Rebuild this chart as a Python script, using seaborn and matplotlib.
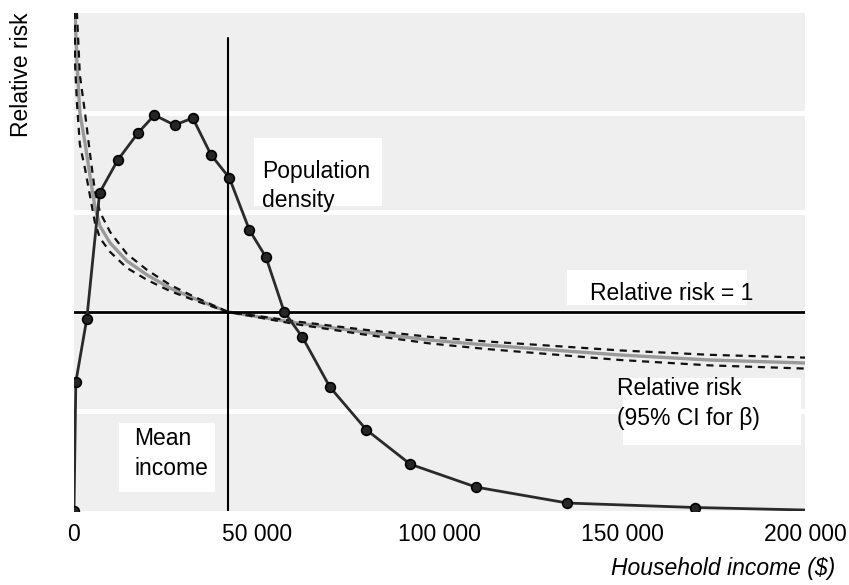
import matplotlib
matplotlib.use("Agg")
import matplotlib.pyplot as plt
import seaborn as sns
import pandas as pd
from matplotlib.patches import Rectangle

# ---------------- data ----------------
income_density = [0, 500, 3500, 7000, 12000, 17500, 22000, 27500, 32500, 37500,
                  42500, 48000, 52500, 57500, 62500, 70000, 80000, 92000,
                  110000, 135000, 170000]
density = [0, 2.59, 3.86, 6.39, 7.05, 7.59, 7.95, 7.75, 7.89, 7.15,
           6.69, 5.64, 5.10, 4.00, 3.49, 2.49, 1.63, 0.94,
           0.48, 0.16, 0.07]
density_tail_income = [170000, 200000]
density_tail = [0.07, 0.02]

income_rr = [100, 300, 800, 1600, 3000, 4400, 5700, 7100, 9900, 14500, 20000,
             26300, 32600, 42000, 61000, 79000, 97400, 113000, 131000, 149500,
             174000, 200000]
rr_est = [3.20, 2.50, 2.25, 2.00, 1.85, 1.68, 1.53, 1.43, 1.345, 1.255, 1.185,
          1.119, 1.069, 1.00, 0.944, 0.899, 0.858, 0.833, 0.808, 0.783,
          0.758, 0.743]
rr_ci_a = [3.72, 2.82, 2.50, 2.19, 2.00, 1.79, 1.61, 1.50, 1.40, 1.29, 1.21,
           1.135, 1.078, 1.00, 0.937, 0.887, 0.841, 0.813, 0.786, 0.758,
           0.731, 0.715]
rr_ci_b = [2.78, 2.24, 2.05, 1.84, 1.72, 1.58, 1.45, 1.37, 1.30, 1.22, 1.16,
           1.104, 1.060, 1.00, 0.951, 0.911, 0.874, 0.851, 0.829, 0.806,
           0.784, 0.770]

mean_income = 42000
rr_reference = 1.0
x_ticks = [0, 50000, 100000, 150000, 200000]
x_tick_labels = ["0", "50 000", "100 000", "150 000", "200 000"]
rr_grid = [0.5, 1.0, 1.5, 2.0]

# ---------------- styling ----------------
sns.set_theme(style="white", rc={"axes.facecolor": "#efefef"})
plt.rcParams["font.family"] = ["Liberation Sans", "DejaVu Sans"]
plt.rcParams["text.color"] = "black"
plt.rcParams["xtick.labelcolor"] = "black"
FS = 16.5

W, H = 849, 585
fig = plt.figure(figsize=(W / 100, H / 100), dpi=100)
fig.patch.set_facecolor("white")
ax = fig.add_axes([74 / W, 1 - 511 / H, (805 - 74) / W, (511 - 13) / H])
ax.set_facecolor("#efefef")
for s in ax.spines.values():
    s.set_visible(False)

# relative risk curves
df_rr = pd.DataFrame({"income": income_rr, "est": rr_est,
                      "a": rr_ci_a, "b": rr_ci_b})
sns.lineplot(data=df_rr, x="income", y="est", ax=ax, color="#9a9a9a",
             lw=2.4, sort=False, zorder=3)
sns.lineplot(data=df_rr, x="income", y="a", ax=ax, color="#111111",
             lw=1.6, sort=False, zorder=3, linestyle=(0, (3.2, 2.6)))
sns.lineplot(data=df_rr, x="income", y="b", ax=ax, color="#111111",
             lw=1.6, sort=False, zorder=3, linestyle=(0, (3.2, 2.6)))

ax.axhline(rr_reference, color="black", lw=2.0, zorder=4)
ax.axvline(mean_income, ymin=0, ymax=0.95, color="black", lw=1.5, zorder=4)

ax.set_xlim(0, 200000)
ax.set_ylim(0, 2.5)
ax.set_yticks(rr_grid)
ax.set_yticklabels([])
ax.tick_params(axis="y", length=0)
ax.yaxis.grid(True, color="white", lw=3.6)
ax.xaxis.grid(False)
ax.set_axisbelow(True)
ax.set_xticks(x_ticks)
ax.set_xticklabels(x_tick_labels, fontsize=FS, color="black")
ax.tick_params(axis="x", direction="in", length=5, width=2, color="white",
               pad=8.5, labelcolor="black")
ax.set_xlabel("")
ax.set_ylabel("")

# population density on a twin scale
ax2 = ax.twinx()
df_d = pd.DataFrame({"income": income_density, "density": density})
df_t = pd.DataFrame({"income": density_tail_income, "density": density_tail})
sns.lineplot(data=df_t, x="income", y="density", ax=ax2, color="#2a2a2a",
             lw=2.0, sort=False)
sns.lineplot(data=df_d, x="income", y="density", ax=ax2, color="#2a2a2a",
             lw=2.0, sort=False, marker="o", markersize=7,
             markerfacecolor="#262626", markeredgecolor="#000000",
             markeredgewidth=1.2)
ax2.set_ylim(0, 10)
ax2.set_xlim(0, 200000)
ax2.axis("off")


def box(x0, y0, x1, y1):
    fig.patches.append(Rectangle((x0 / W, 1 - y1 / H), (x1 - x0) / W,
                                 (y1 - y0) / H, transform=fig.transFigure,
                                 facecolor="white", edgecolor="none",
                                 zorder=5))


def txt(x, y, s, **kw):
    fig.text(x / W, 1 - y / H, s, fontsize=FS, va="baseline", ha="left",
             color="black", zorder=6, **kw)


box(254, 138, 382, 206)
txt(262, 178, "Population")
txt(262, 207, "density")

box(567, 270, 747, 305)
txt(590, 300, "Relative risk = 1")

box(623, 378, 801, 445)
txt(617, 395, "Relative risk")
txt(617, 425, "(95% CI for β)")

box(119, 423, 215, 492)
txt(134, 445, "Mean")
txt(134, 475, "income")

fig.text(22 / W, 1 - 75 / H, "Relative risk", rotation=90, fontsize=FS,
         ha="center", va="center", color="black")
fig.text(835 / W, 1 - 575 / H, "Household income ($)", fontsize=FS,
         ha="right", va="baseline", style="italic", color="black")

fig.savefig("out.png", dpi=100)
